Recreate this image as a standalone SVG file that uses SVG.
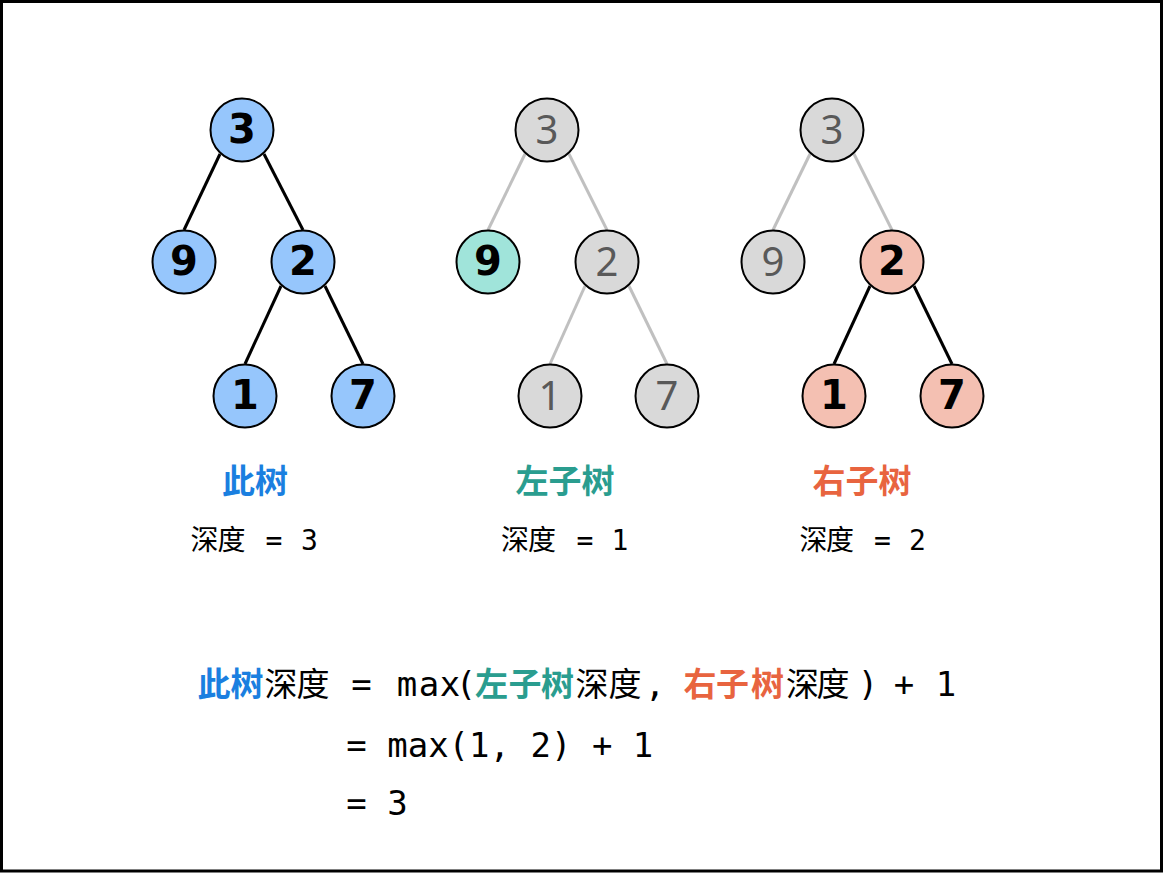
<svg xmlns="http://www.w3.org/2000/svg" width="1163" height="873" viewBox="0 0 1163 873">
<style>
.frame{fill:#fff;stroke:#000;stroke-width:3}
.edge-b{stroke:#000;stroke-width:3;stroke-linecap:butt}
.edge-g{stroke:#C0C0C0;stroke-width:3;stroke-linecap:butt}
circle{stroke:#000;stroke-width:2}
.blue{fill:#96C6FC}
.teal{fill:#A0E4DA}
.red{fill:#F4C0B2}
.grey{fill:#D9D9D9}
.nb{font-family:"DejaVu Sans",Verdana,sans-serif;font-weight:700;font-size:40px;fill:#000;text-anchor:middle}
.ng{font-family:"Noto Sans","Open Sans",sans-serif;font-weight:400;font-size:40px;fill:#595959;text-anchor:middle}
.cjk{font-family:"Noto Sans CJK SC","Noto Sans",sans-serif}
.mono{font-family:"DejaVu Sans Mono","Liberation Mono",monospace}
.title{font-family:"Noto Sans CJK SC",sans-serif;font-weight:700;font-size:33px;text-anchor:middle}
.cb{fill:#1A7FE0}
.ct{fill:#2A9D8F}
.co{fill:#E8643F}
.lab{font-size:28px;fill:#000;text-anchor:middle}
.f{font-size:34px;fill:#000;text-anchor:middle}
.fc{font-size:33px;text-anchor:middle}
</style>
<rect class="frame" x="1.5" y="1.5" width="1160" height="869.5"/>
<g id="connectors">
<line class="edge-b" x1="220" y1="154" x2="184" y2="230"/>
<line class="edge-b" x1="264" y1="154" x2="303" y2="230"/>
<line class="edge-b" x1="281" y1="286" x2="245" y2="364"/>
<line class="edge-b" x1="325" y1="286" x2="363" y2="364"/>
<line class="edge-g" x1="525" y1="154" x2="488" y2="230"/>
<line class="edge-g" x1="569" y1="154" x2="607" y2="230"/>
<line class="edge-g" x1="585" y1="286" x2="550" y2="364"/>
<line class="edge-g" x1="629" y1="286" x2="667" y2="364"/>
<line class="edge-g" x1="810" y1="154" x2="773" y2="230"/>
<line class="edge-g" x1="854" y1="154" x2="892" y2="230"/>
<line class="edge-b" x1="870" y1="286" x2="834" y2="364"/>
<line class="edge-b" x1="914" y1="286" x2="952" y2="364"/>
</g>
<g id="t1-n3"><circle class="blue" cx="242" cy="130" r="31.5"/><text class="nb" x="242" y="143">3</text></g>
<g id="t1-n9"><circle class="blue" cx="184" cy="262" r="31.5"/><text class="nb" x="184" y="275">9</text></g>
<g id="t1-n2"><circle class="blue" cx="303" cy="262" r="31.5"/><text class="nb" x="303" y="275">2</text></g>
<g id="t1-n1"><circle class="blue" cx="245" cy="396" r="31.5"/><text class="nb" x="245" y="409">1</text></g>
<g id="t1-n7"><circle class="blue" cx="363" cy="396" r="31.5"/><text class="nb" x="363" y="409">7</text></g>
<g id="t2-n3"><circle class="grey" cx="547" cy="130" r="31.5"/><text class="ng" x="547" y="144">3</text></g>
<g id="t2-n9"><circle class="teal" cx="488" cy="262" r="31.5"/><text class="nb" x="488" y="275">9</text></g>
<g id="t2-n2"><circle class="grey" cx="607" cy="262" r="31.5"/><text class="ng" x="607" y="276">2</text></g>
<g id="t2-n1"><circle class="grey" cx="550" cy="396" r="31.5"/><text class="ng" x="550" y="410">1</text></g>
<g id="t2-n7"><circle class="grey" cx="667" cy="396" r="31.5"/><text class="ng" x="667" y="410">7</text></g>
<g id="t3-n3"><circle class="grey" cx="832" cy="130" r="31.5"/><text class="ng" x="832" y="144">3</text></g>
<g id="t3-n9"><circle class="grey" cx="773" cy="262" r="31.5"/><text class="ng" x="773" y="276">9</text></g>
<g id="t3-n2"><circle class="red" cx="892" cy="262" r="31.5"/><text class="nb" x="892" y="275">2</text></g>
<g id="t3-n1"><circle class="red" cx="834" cy="396" r="31.5"/><text class="nb" x="834" y="409">1</text></g>
<g id="t3-n7"><circle class="red" cx="952" cy="396" r="31.5"/><text class="nb" x="952" y="409">7</text></g>
<g id="labels">
<text class="title cb" x="255" y="493">此树</text>
<text class="title ct" x="565" y="493">左子树</text>
<text class="title co" x="862" y="493">右子树</text>
<text class="lab"><tspan class="cjk" x="204.5 231.5" y="550">深度</tspan><tspan class="mono" x="274 309.5" y="550">=3</tspan></text>
<text class="lab"><tspan class="cjk" x="515 542" y="550">深度</tspan><tspan class="mono" x="585 620" y="550">=1</tspan></text>
<text class="lab"><tspan class="cjk" x="813.5 840" y="550">深度</tspan><tspan class="mono" x="882.5 917.5" y="550">=2</tspan></text>
</g>
<g id="formula">
<text y="696"><tspan class="cjk fc cb" font-weight="700" x="214 247">此树</tspan><tspan class="cjk fc" fill="#000" x="281 313">深度</tspan><tspan class="mono f" x="361.5 407 429 450 466">=max(</tspan><tspan class="cjk fc ct" font-weight="700" x="491.5 525 557.5">左子树</tspan><tspan class="cjk fc" fill="#000" x="592 625">深度</tspan><tspan class="mono f" x="655">,</tspan><tspan class="cjk fc co" font-weight="700" x="700 732.5 767.5">右子树</tspan><tspan class="cjk fc" fill="#000" x="802.5 833">深度</tspan><tspan class="mono f" x="868 904 946">)+1</tspan></text>
<text class="mono" font-size="34" x="346.25" y="757">= max(1, 2) + 1</text>
<text class="mono" font-size="34" x="346.25" y="815">= 3</text>
</g>
</svg>
